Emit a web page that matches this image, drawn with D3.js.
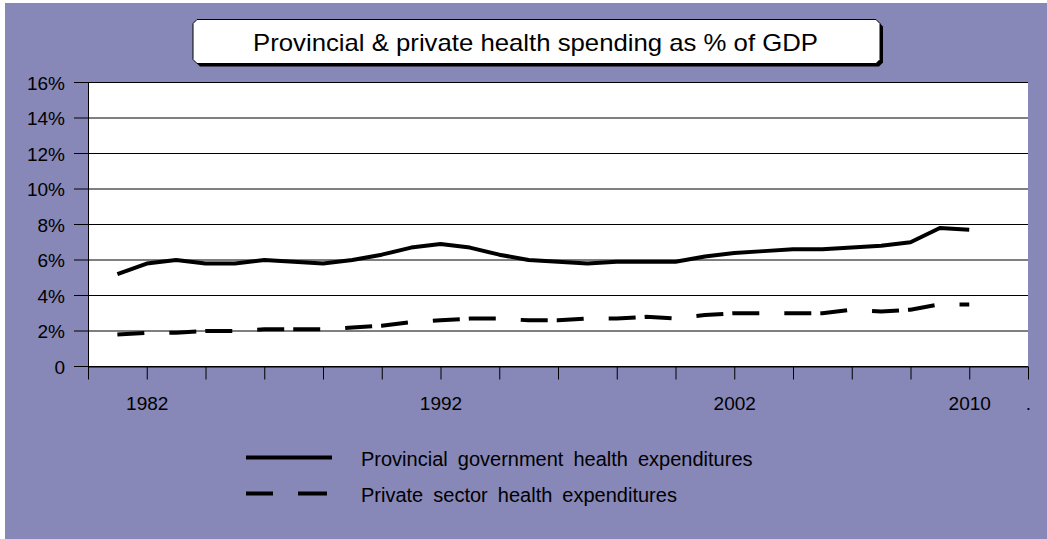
<!DOCTYPE html>
<html>
<head>
<meta charset="utf-8">
<script src="https://cdn.jsdelivr.net/npm/d3@7"></script>
<style>
  html, body { margin: 0; padding: 0; background: #ffffff; }
  svg { display: block; }
  text { font-family: "Liberation Sans", Arial, sans-serif; fill: #000; }
</style>
</head>
<body>
<div id="chart"></div>
<script>
// ---- Data ----
const years = d3.range(1981, 2011);
const provincial = [5.2, 5.8, 6.0, 5.8, 5.8, 6.0, 5.9, 5.8, 6.0, 6.3,
                    6.7, 6.9, 6.7, 6.3, 6.0, 5.9, 5.8, 5.9, 5.9, 5.9,
                    6.2, 6.4, 6.5, 6.6, 6.6, 6.7, 6.8, 7.0, 7.8, 7.7];
const privateSector = [1.8, 1.9, 1.9, 2.0, 2.0, 2.1, 2.1, 2.1, 2.2, 2.3,
                       2.5, 2.6, 2.7, 2.7, 2.6, 2.6, 2.7, 2.7, 2.8, 2.7,
                       2.9, 3.0, 3.0, 3.0, 3.0, 3.2, 3.1, 3.2, 3.5, 3.5];
const seriesNames = ["Provincial government health expenditures", "Private sector health expenditures"];
const yTicks = [0, 2, 4, 6, 8, 10, 12, 14, 16];
const yTickLabels = ["0", "2%", "4%", "6%", "8%", "10%", "12%", "14%", "16%"];
const xTicks = d3.range(1980, 2013, 2);
const xTickLabels = {1982: "1982", 1992: "1992", 2002: "2002", 2010: "2010", 2012: "."};
const title = "Provincial & private health spending as % of GDP";

// ---- Layout ----
const W = 1047, H = 539;
const bg = "#8787B8";
const svg = d3.select("#chart").append("svg").attr("width", W).attr("height", H);

svg.append("rect").attr("x", 0).attr("y", 0).attr("width", W).attr("height", H).attr("fill", "#ffffff");
svg.append("rect").attr("x", 5).attr("y", 3).attr("width", W - 5).attr("height", H - 3).attr("fill", bg);

const plot = {left: 88, right: 1028, top: 82.5, bottom: 366.5};
const x = d3.scaleLinear().domain([1980, 2012]).range([plot.left, plot.right]);
const y = d3.scaleLinear().domain([0, 16]).range([plot.bottom, plot.top]);

// plot area
svg.append("rect").attr("x", plot.left).attr("y", plot.top)
  .attr("width", plot.right - plot.left).attr("height", plot.bottom - plot.top)
  .attr("fill", "#ffffff");

// gridlines
svg.append("g").selectAll("line").data(yTicks).join("line")
  .attr("x1", plot.left - 14).attr("x2", plot.right)
  .attr("y1", d => y(d)).attr("y2", d => y(d))
  .attr("stroke", "#000").attr("stroke-width", 1);

// y axis
const yAxis = d3.axisLeft(y).tickValues(yTicks).tickSize(0).tickPadding(0)
  .tickFormat((d, i) => yTickLabels[i]);
const gy = svg.append("g").attr("transform", `translate(${plot.left},0)`).call(yAxis);
gy.select(".domain").remove();
gy.selectAll("text").attr("x", -23).attr("dy", "0.36em")
  .style("font-size", "19px").style("font-family", "Liberation Sans, Arial, sans-serif").attr("fill", "#000");
svg.append("line").attr("x1", plot.left + 0.5).attr("x2", plot.left + 0.5)
  .attr("y1", plot.top).attr("y2", plot.bottom).attr("stroke", "#000");

// x axis
const xAxis = d3.axisBottom(x).tickValues(xTicks).tickSize(13).tickPadding(17)
  .tickFormat(d => xTickLabels[d] || "");
const gx = svg.append("g").attr("transform", `translate(0,${plot.bottom})`).call(xAxis);
gx.select(".domain").attr("stroke", "#000").attr("d", `M${plot.left},0.5H${plot.right}`);
gx.selectAll(".tick line").attr("stroke", "#000");
gx.selectAll("text").style("font-size", "19px").style("font-family", "Liberation Sans, Arial, sans-serif").attr("fill", "#000");

// lines
const line = d3.line().x((d, i) => x(years[i])).y(d => y(d));
svg.append("path").datum(provincial).attr("d", line)
  .attr("fill", "none").attr("stroke", "#000").attr("stroke-width", 4)
  .attr("stroke-linejoin", "round");
svg.append("path").datum(privateSector).attr("d", line)
  .attr("fill", "none").attr("stroke", "#000").attr("stroke-width", 4)
  .attr("stroke-dasharray", "27,25,27,9");

// title box
const tb = {x0: 193, y0: 19.5, x1: 880, y1: 63.5, c: 4};
const boxPath = (o) => `M${tb.x0 + tb.c + o},${tb.y0 + o} H${tb.x1 - tb.c + o} L${tb.x1 + o},${tb.y0 + tb.c + o} V${tb.y1 - tb.c + o} L${tb.x1 - tb.c + o},${tb.y1 + o} H${tb.x0 + tb.c + o} L${tb.x0 + o},${tb.y1 - tb.c + o} V${tb.y0 + tb.c + o} Z`;
svg.append("path").attr("d", boxPath(3)).attr("fill", "#000");
svg.append("path").attr("d", boxPath(0)).attr("fill", "#fff").attr("stroke", "#000").attr("stroke-width", 1);
svg.append("text").attr("x", 253).attr("y", 51)
  .attr("textLength", 565).attr("lengthAdjust", "spacingAndGlyphs")
  .style("font-size", "24px").text(title);

// legend
const legY = [457.5, 493.5];
const legend = svg.append("g");
legend.selectAll("line").data(seriesNames).join("line")
  .attr("x1", 246).attr("x2", 332)
  .attr("y1", (d, i) => legY[i]).attr("y2", (d, i) => legY[i])
  .attr("stroke", "#000").attr("stroke-width", 4)
  .attr("stroke-dasharray", (d, i) => i === 1 ? "27,25,29,5,1,100" : null);
legend.selectAll("text").data(seriesNames).join("text")
  .attr("x", 361).attr("y", (d, i) => legY[i] + 8)
  .style("font-size", "20px").style("word-spacing", "4.5px")
  .text(d => d);
</script>
</body>
</html>
